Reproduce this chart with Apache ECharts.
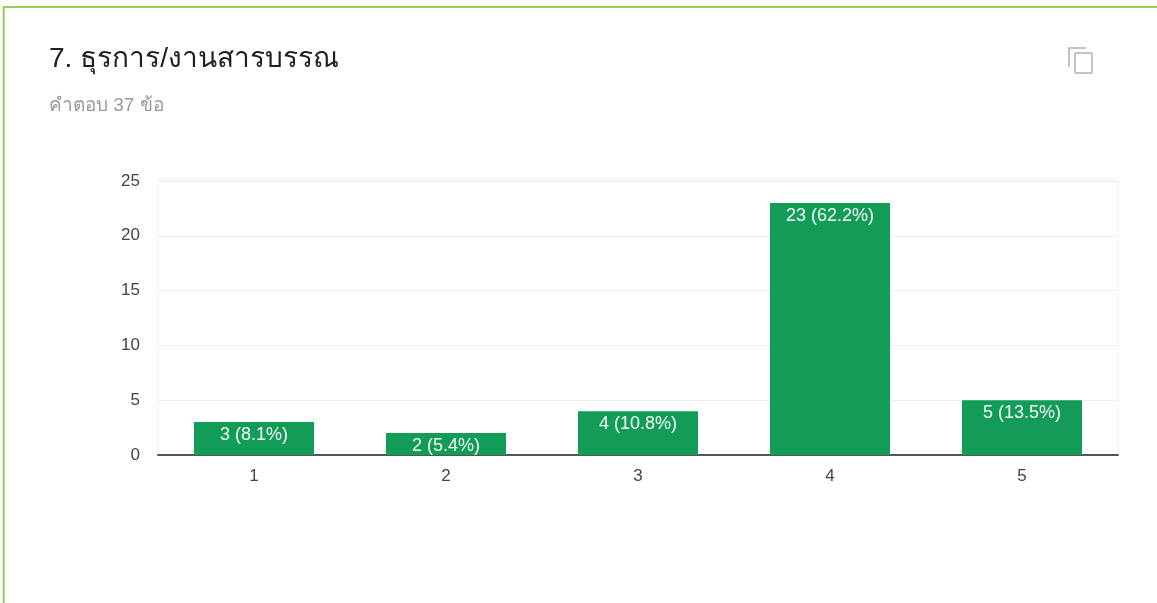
<!DOCTYPE html>
<html>
<head>
<meta charset="utf-8">
<style>
  html, body { margin: 0; padding: 0; background: #fff; }
  #chart { width: 1157px; height: 603px; }
</style>
<script src="https://cdn.jsdelivr.net/npm/echarts@6/dist/echarts.min.js"></script>
</head>
<body>
<div id="chart"></div>
<script>
const categories = ["1", "2", "3", "4", "5"];
const counts = [3, 2, 4, 23, 5];
const percents = ["8.1%", "5.4%", "10.8%", "62.2%", "13.5%"];
const yTicks = [0, 5, 10, 15, 20, 25];

const chart = echarts.init(document.getElementById("chart"));
const fontFamily = "Arial, 'Liberation Sans', 'Noto Sans', sans-serif";

chart.setOption({
  animation: false,
  backgroundColor: "#fff",
  title: {
    text: "7. ธุรการ/งานสารบรรณ",
    subtext: "คำตอบ 37 ข้อ",
    left: 44,
    top: 40,
    itemGap: 23,
    textStyle: { color: "#212121", fontSize: 28, fontWeight: "normal", fontFamily },
    subtextStyle: { color: "#9a9a9a", fontSize: 19, fontFamily }
  },
  grid: {
    left: 158,
    right: 39,
    top: 181,
    bottom: 148,
    show: true,
    borderColor: "#f1f1f1",
    borderWidth: 1
  },
  xAxis: {
    type: "category",
    data: categories,
    axisLine: { lineStyle: { color: "#555", width: 2 } },
    axisTick: { show: false },
    axisLabel: { color: "#444", fontSize: 17, margin: 13, fontFamily }
  },
  yAxis: {
    type: "value",
    min: yTicks[0],
    max: yTicks[yTicks.length - 1],
    interval: yTicks[1],
    axisLine: { show: false },
    axisTick: { show: false },
    axisLabel: { color: "#444", fontSize: 17, margin: 18, fontFamily },
    splitLine: { lineStyle: { color: "#efefef", width: 1 } }
  },
  series: [{
    type: "bar",
    data: counts,
    barWidth: 120,
    itemStyle: { color: "#129c57" },
    label: {
      show: true,
      position: "insideTop",
      distance: 4,
      color: "#f4fbf6",
      fontSize: 18,
      fontFamily,
      formatter: p => p.value + " (" + percents[p.dataIndex] + ")"
    }
  }],
  graphic: [
    // card border, only top and left show in the crop
    { type: "line", shape: { x1: 3.7, y1: 7, x2: 1157, y2: 7 }, style: { stroke: "#8fd155", lineWidth: 2 } },
    { type: "line", shape: { x1: 3.7, y1: 6, x2: 3.7, y2: 603 }, style: { stroke: "#8fd155", lineWidth: 2 } },
    // pale band above the plot
    { type: "rect", shape: { x: 158, y: 178, width: 960, height: 3 }, style: { fill: "#f8f8f8" } },
    // copy icon
    { type: "rect", shape: { x: 1075, y: 53, width: 17, height: 20, r: 1 }, style: { fill: "#fff", stroke: "#c4c4c4", lineWidth: 2 } },
    { type: "polyline", shape: { points: [[1069, 67], [1069, 48], [1086, 48]] }, style: { fill: null, stroke: "#c4c4c4", lineWidth: 2 } }
  ]
});
</script>
</body>
</html>
